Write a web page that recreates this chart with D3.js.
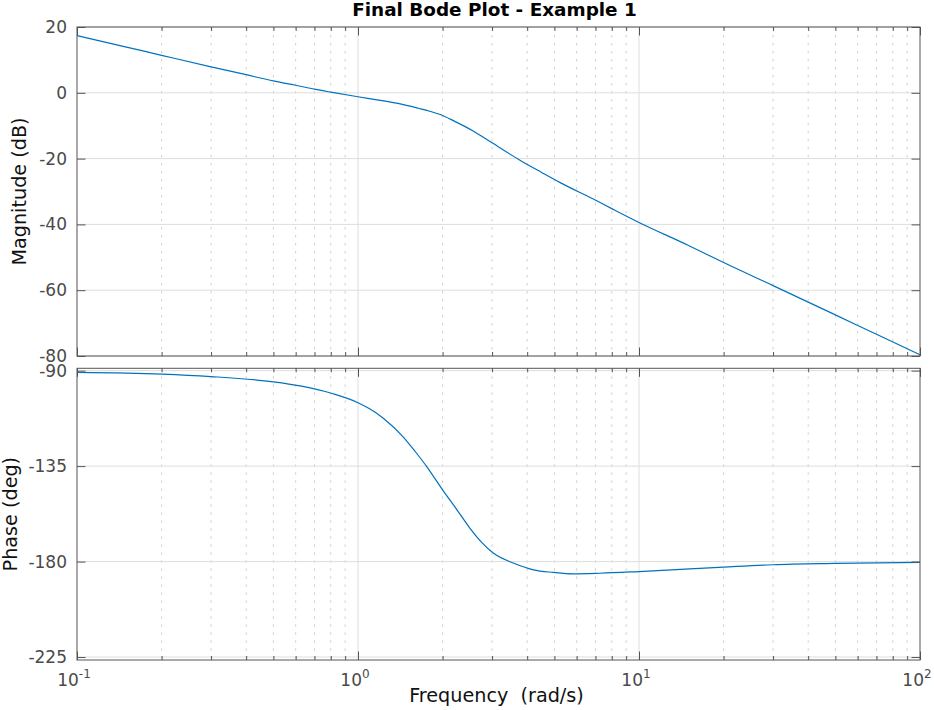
<!DOCTYPE html>
<html>
<head>
<meta charset="utf-8">
<script src="https://cdn.jsdelivr.net/npm/d3@7"></script>
<style>
    body { margin: 0; background: #fff; }
    svg text { font-family: "DejaVu Sans", "Liberation Sans", sans-serif; }
</style>
</head>
<body>
<div id="svg-container"></div>
<script>
const [WIDTH, HEIGHT] = [934, 710]

// values (rad/s, dB, deg)
const magFreq = [0.1, 0.15, 0.2, 0.3, 0.4, 0.5, 0.6, 0.7, 0.8, 1.0, 1.2, 1.4, 1.64, 1.8, 1.96, 2.2, 2.57, 3.0, 3.77, 4.5, 5.24, 6.88, 8.0, 10, 15, 20, 30, 50, 70, 100]
const magDb = [17.4, 13.9, 11.4, 7.9, 5.5, 3.6, 2.3, 1.1, 0.2, -1.2, -2.3, -3.3, -4.7, -5.6, -6.6, -8.6, -11.6, -15.2, -20.5, -24.2, -27.3, -32.3, -35.2, -39.4, -46.4, -51.6, -58.6, -67.5, -73.4, -79.6]

const phaseFreq = [0.1, 0.2, 0.3, 0.5, 0.622, 0.81, 1.0, 1.1, 1.23, 1.45, 1.595, 1.756, 2.0, 2.25, 2.5, 2.75, 3.03, 3.57, 4.21, 4.95, 5.83, 7.26, 10, 20, 30, 50, 100]
const phaseDeg = [-90.8, -91.6, -92.8, -95.3, -97.2, -100.8, -105.1, -108.0, -112.4, -121.3, -128.0, -135.2, -146.2, -155.6, -164.2, -170.8, -176.0, -180.7, -183.9, -185.1, -185.8, -185.5, -184.7, -182.6, -181.5, -180.9, -180.4]

const xDecades = [0.1, 1, 10, 100]
const xExponents = ['-1', '0', '1', '2']
const magTicks = [20, 0, -20, -40, -60, -80]
const phaseTicks = [-90, -135, -180, -225]

const MARGIN = { left: 77, right: 920 }
const PANELS = {
    mag: { top: 27, bottom: 356, domain: [-80, 20] },
    phase: { top: 368.3, bottom: 660, domain: [-226.4, -88.9] }
}
const COLORS = {
    line: '#0072bd',
    box: '#555',
    grid: '#dedede',
    minor: '#cfcfcf',
    tick: '#4a4a4a'
}
const TICK = { major: 8.5, minor: 4 }

function main() {
    const svg = setup()

    const x = d3.scaleLog().domain([0.1, 100]).range([MARGIN.left, MARGIN.right])
    const yMag = d3.scaleLinear().domain(PANELS.mag.domain).range([PANELS.mag.bottom, PANELS.mag.top])
    const yPhase = d3.scaleLinear().domain(PANELS.phase.domain).range([PANELS.phase.bottom, PANELS.phase.top])

    drawPanel(svg, x, yMag, PANELS.mag, magTicks, magFreq, magDb)
    drawPanel(svg, x, yPhase, PANELS.phase, phaseTicks, phaseFreq, phaseDeg)

    // decade labels below phase plot
    const lab = svg.append('g')
        .attr('fill', COLORS.tick)
        .attr('font-size', 17)
        .attr('text-anchor', 'middle')
    const t = lab.selectAll('text').data(xDecades).join('text')
        .attr('x', d => x(d) - 3)
        .attr('y', 686)
        .text('10')
    t.append('tspan')
        .attr('dy', -8)
        .attr('font-size', 12)
        .text((d, i) => xExponents[i])

    // title and axis labels
    svg.append('text')
        .attr('x', (MARGIN.left + MARGIN.right) / 2 - 4)
        .attr('y', 16)
        .attr('text-anchor', 'middle')
        .attr('font-size', 18.4)
        .attr('font-weight', 'bold')
        .attr('fill', '#000')
        .text('Final Bode Plot - Example 1')

    svg.append('text')
        .attr('x', (MARGIN.left + MARGIN.right) / 2 - 2)
        .attr('y', 702)
        .attr('text-anchor', 'middle')
        .attr('font-size', 19.2)
        .attr('fill', '#111')
        .text('Frequency\u00a0\u00a0(rad/s)')

    svg.append('text')
        .attr('transform', `translate(26,${(PANELS.mag.top + PANELS.mag.bottom) / 2}) rotate(-90)`)
        .attr('text-anchor', 'middle')
        .attr('font-size', 19.2)
        .attr('fill', '#111')
        .text('Magnitude (dB)')

    svg.append('text')
        .attr('transform', `translate(16.5,${(PANELS.phase.top + PANELS.phase.bottom) / 2}) rotate(-90)`)
        .attr('text-anchor', 'middle')
        .attr('font-size', 19.2)
        .attr('fill', '#111')
        .text('Phase (deg)')
}

function drawPanel(svg, x, y, panel, yTicks, freqs, values) {
    const g = svg.append('g')
    const minorX = x.ticks().filter(d => !xDecades.includes(d))

    // grid
    g.append('g').selectAll('line').data(minorX).join('line')
        .attr('x1', d => x(d)).attr('x2', d => x(d))
        .attr('y1', panel.top).attr('y2', panel.bottom)
        .attr('stroke', COLORS.minor)
        .attr('stroke-dasharray', '2.5,5.5')
    g.append('g').selectAll('line').data(xDecades.slice(1, -1)).join('line')
        .attr('x1', d => x(d)).attr('x2', d => x(d))
        .attr('y1', panel.top).attr('y2', panel.bottom)
        .attr('stroke', COLORS.grid)
    g.append('g').selectAll('line').data(yTicks).join('line')
        .attr('x1', MARGIN.left).attr('x2', MARGIN.right)
        .attr('y1', d => y(d)).attr('y2', d => y(d))
        .attr('stroke', COLORS.grid)

    // curve
    const line = d3.line()
        .x((d, i) => x(freqs[i]))
        .y(d => y(d))
        .curve(d3.curveMonotoneX)
    g.append('path')
        .datum(values)
        .attr('d', line)
        .attr('fill', 'none')
        .attr('stroke', COLORS.line)
        .attr('stroke-width', 1.2)

    // ticks on all four sides, pointing inward
    const axes = [
        [d3.axisBottom(x).tickValues(xDecades).tickSize(-TICK.major), `translate(0,${panel.bottom})`],
        [d3.axisBottom(x).tickValues(minorX).tickSize(-TICK.minor), `translate(0,${panel.bottom})`],
        [d3.axisTop(x).tickValues(xDecades).tickSize(-TICK.major), `translate(0,${panel.top})`],
        [d3.axisTop(x).tickValues(minorX).tickSize(-TICK.minor), `translate(0,${panel.top})`],
        [d3.axisRight(y).tickValues(yTicks).tickSize(-TICK.major), `translate(${MARGIN.right},0)`]
    ]
    for (const [axis, tr] of axes) {
        const a = g.append('g').attr('transform', tr)
            .call(axis.tickFormat(''))
        a.select('.domain').remove()
        a.selectAll('line').attr('stroke', COLORS.box)
    }

    const left = g.append('g').attr('transform', `translate(${MARGIN.left},0)`)
        .call(d3.axisLeft(y).tickValues(yTicks).tickSize(-TICK.major).tickPadding(10).tickFormat(d3.format('d')))
    left.select('.domain').remove()
    left.selectAll('line').attr('stroke', COLORS.box)
    left.selectAll('text')
        .attr('fill', COLORS.tick)
        .attr('font-size', 17)
        .attr('font-family', null)
        .text(d => String(d))

    // box
    g.append('rect')
        .attr('x', MARGIN.left).attr('y', panel.top)
        .attr('width', MARGIN.right - MARGIN.left)
        .attr('height', panel.bottom - panel.top)
        .attr('fill', 'none')
        .attr('stroke', COLORS.box)
}

function setup() {
    return d3.select('#svg-container').append('svg')
        .attr('width', WIDTH)
        .attr('height', HEIGHT)
        .attr('viewBox', [0, 0, WIDTH, HEIGHT])
}

main()
</script>
</body>
</html>
